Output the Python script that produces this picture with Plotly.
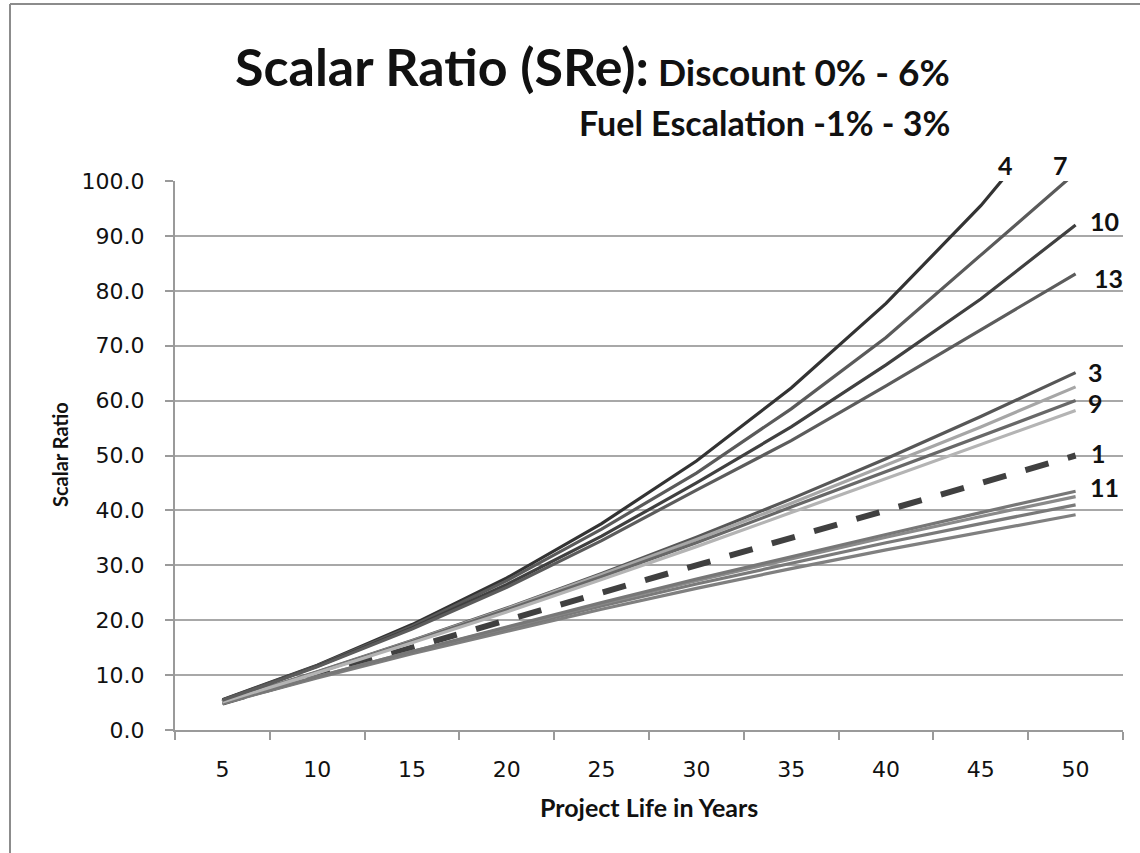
import plotly.graph_objects as go

# ---------------- data ----------------
years = ["5", "10", "15", "20", "25", "30", "35", "40", "45", "50"]

s1 = [5.0, 10.0, 15.0, 20.0, 25.0, 30.0, 35.0, 40.0, 45.0, 50.0]
s2 = [4.85, 9.5, 13.9, 18.0, 22.0, 25.8, 29.4, 32.8, 36.0, 39.2]
s3 = [5.2, 10.6, 16.3, 22.2, 28.5, 35.1, 42.1, 49.4, 57.1, 65.1]
s4 = [5.5, 11.8, 19.2, 27.7, 37.6, 49.0, 62.3, 77.7, 95.5, 116.2]
s5 = [4.9, 9.6, 14.1, 18.4, 22.6, 26.6, 30.4, 34.1, 37.6, 41.0]
s6 = [5.1, 10.5, 16.2, 22.1, 28.3, 34.7, 41.3, 48.2, 55.2, 62.5]
s7 = [5.45, 11.7, 18.9, 27.2, 36.6, 46.8, 58.5, 71.5, 86.5, 101.5]
s8 = [4.9, 9.7, 14.3, 18.7, 23.0, 27.2, 31.2, 35.1, 38.9, 42.5]
s9 = [5.1, 10.5, 16.1, 21.9, 27.9, 34.1, 40.6, 47.1, 53.5, 60.0]
s10 = [5.4, 11.6, 18.6, 26.5, 35.3, 45.0, 55.2, 66.5, 78.5, 92.0]
s11 = [4.9, 9.7, 14.3, 18.8, 23.2, 27.5, 31.6, 35.6, 39.6, 43.5]
s12 = [5.1, 10.4, 15.9, 21.5, 27.4, 33.4, 39.6, 45.8, 52.0, 58.2]
s13 = [5.4, 11.5, 18.4, 26.0, 34.5, 43.7, 52.7, 62.7, 72.9, 83.1]

series = [s1, s2, s3, s4, s5, s6, s7, s8, s9, s10, s11, s12, s13]
series_names = [str(i) for i in range(1, 14)]
line_colors = ["#404040", "#808080", "#575757", "#333333", "#7a7a7a", "#a6a6a6",
               "#5a5a5a", "#8a8a8a", "#686868", "#404040", "#777777", "#b4b4b4", "#5c5c5c"]

end_labels = ["4", "7", "10", "13", "3", "9", "1", "11"]

title_main = "Scalar Ratio (SRe):"
title_sub1 = "Discount 0% - 6%"
title_sub2 = "Fuel Escalation -1% - 3%"
x_title = "Project Life in Years"
y_title = "Scalar Ratio"

# ---------------- layout geometry ----------------
W, H = 1140, 853
L, R, T, B = 175, 17, 181, 123
PW, PH = W - L - R, H - T - B


def px(x):
    return (x - L) / PW


def py(y):
    return (H - B - y) / PH


fig = go.Figure()
for name, vals, col in zip(series_names, series, line_colors):
    if name == "1":
        line = dict(color=col, width=6, dash="24px,20px")
    else:
        line = dict(color=col, width=3.2)
    fig.add_trace(go.Scatter(x=years, y=vals, mode="lines", name=name,
                             line=line, showlegend=False, hoverinfo="skip"))

tick_font = dict(family="DejaVu Sans", size=22, color="#111111")

fig.update_layout(
    width=W, height=H,
    margin=dict(l=L, r=R, t=T, b=B, pad=0),
    paper_bgcolor="white", plot_bgcolor="white",
    xaxis=dict(type="category", range=[-0.5, 9.5], tickson="boundaries", ticks="outside",
               ticklen=8, tickwidth=2, tickcolor="#9a9a9a",
               showline=True, linecolor="#9a9a9a", linewidth=2,
               showgrid=False, zeroline=False, tickfont=tick_font,
               ticklabelstandoff=19),
    yaxis=dict(range=[0, 100], dtick=10, tick0=0, tickformat=".1f",
               ticks="outside", ticklen=8, tickwidth=2, tickcolor="#9a9a9a",
               showline=True, linecolor="#9a9a9a", linewidth=2,
               showgrid=True, gridcolor="#a8a8a8", gridwidth=2,
               zeroline=False, tickfont=tick_font, ticklabelstandoff=16),
)

annotations = []
# end-of-line labels (pixel positions of their centres)
label_pos = {"4": (1005, 165), "7": (1060, 165), "10": (1104, 221), "13": (1108, 278),
             "3": (1095, 372), "9": (1095, 403), "1": (1098, 453), "11": (1104, 487)}
for lab in end_labels:
    x0, y0 = label_pos[lab]
    annotations.append(dict(text="<b>%s</b>" % lab, x=px(x0), y=py(y0), xref="paper", yref="paper",
                            xanchor="center", yanchor="middle", showarrow=False,
                            font=dict(family="Lato", size=25, color="#111111")))

annotations.append(dict(
    text="<b><span style='font-size:52px'>%s</span> %s</b>" % (title_main, title_sub1),
    x=px(952), y=py(66), xref="paper", yref="paper", xanchor="right", yanchor="middle",
    showarrow=False, font=dict(family="Lato", size=37, color="#111111")))
annotations.append(dict(
    text="<b>%s</b>" % title_sub2,
    x=px(952), y=py(122), xref="paper", yref="paper", xanchor="right", yanchor="middle",
    showarrow=False, font=dict(family="Lato", size=34, color="#111111")))
annotations.append(dict(
    text="<b>%s</b>" % x_title, x=px(649), y=py(807), xref="paper", yref="paper",
    xanchor="center", yanchor="middle", showarrow=False,
    font=dict(family="Lato", size=25, color="#111111")))
annotations.append(dict(
    text="<b>%s</b>" % y_title, x=px(60), y=py(455), xref="paper", yref="paper",
    xanchor="center", yanchor="middle", showarrow=False, textangle=-90,
    font=dict(family="Lato", size=20, color="#111111")))
fig.update_layout(annotations=annotations)

# outer chart border (partially visible in the reference)
fig.add_shape(type="line", xref="paper", yref="paper", x0=px(10), x1=px(10), y0=py(4), y1=py(860),
              line=dict(color="#8c8c8c", width=2))
fig.add_shape(type="line", xref="paper", yref="paper", x0=px(10), x1=px(1145), y0=py(4), y1=py(4),
              line=dict(color="#8c8c8c", width=2))

fig.write_html("out.html", config={"displayModeBar": False},
               post_script="document.body.style.margin='0';document.body.style.overflow='hidden';")
